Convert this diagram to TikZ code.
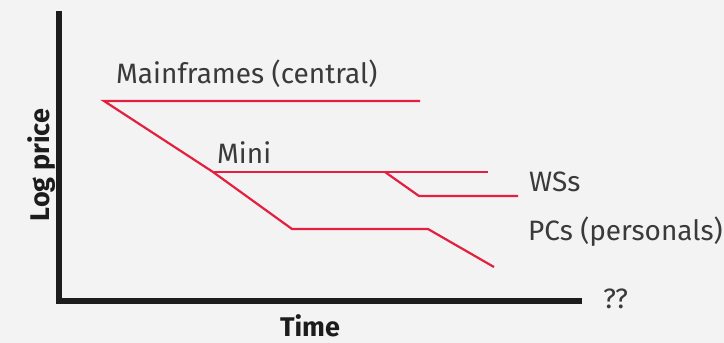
\documentclass[tikz,border=0pt]{standalone}
\usepackage{fontspec}
\setmainfont{Fira Sans}
\usepackage{xcolor}
\usetikzlibrary{positioning,calc}
\definecolor{bggrey}{HTML}{F3F3F3}
\definecolor{trend}{HTML}{E3203F}
\definecolor{axisblack}{HTML}{1C1C1C}
\definecolor{labelgrey}{HTML}{3A3A3A}

\begin{document}
\begin{tikzpicture}[
    x=1pt, y=-1pt,
    axis/.style={draw=axisblack, line width=6pt},
    trendline/.style={draw=trend, line width=2.2pt, line join=miter},
    lbl/.style={text=labelgrey, inner sep=0pt, anchor=base west, font=\fontsize{28}{30}\selectfont},
    axislbl/.style={text=axisblack, inner sep=0pt, anchor=base, font=\fontsize{27}{30}\selectfont\bfseries}
]
\fill[bggrey] (0,0) rectangle (724,343);
\useasboundingbox (0,0) rectangle (724,343);

% axes
\coordinate (ytop) at (59,11);
\coordinate (origin) at (59,301);
\coordinate (xend) at (582,301);
\draw[axis] (ytop) -- (origin) -- (xend);
\node[axislbl] (time) at (310,336) {Time};
\node[axislbl, rotate=90] (logprice) at (49,165) {Log price};
\node[lbl] (unknown) at (603,308) {??};

% trend coordinates
\coordinate (mf0) at (104,101);
\coordinate (mf1) at (420,101);
\coordinate (mi0) at (213,172);
\coordinate (mi1) at (488,172);
\coordinate (ws0) at (385,172);
\coordinate (ws1) at (419,196);
\coordinate (ws2) at (518,196);
\coordinate (pc0) at (292,229);
\coordinate (pc1) at (428,229);
\coordinate (pc2) at (494,267);

\draw[trendline] (mf1) -- (mf0) -- (mi0) -- (pc0) -- (pc1) -- (pc2);
\draw[trendline] (mi0) -- (mi1);
\draw[trendline] (ws0) -- (ws1) -- (ws2);

% labels
\node[lbl] (mainframes) at (116,83) {Mainframes (central)};
\node[lbl] (mini) at (217,163) {Mini};
\node[lbl] (wss) at (529,191) {WSs};
\node[lbl] (pcs) at (528,240) {PCs (personals)};
\end{tikzpicture}
\end{document}
